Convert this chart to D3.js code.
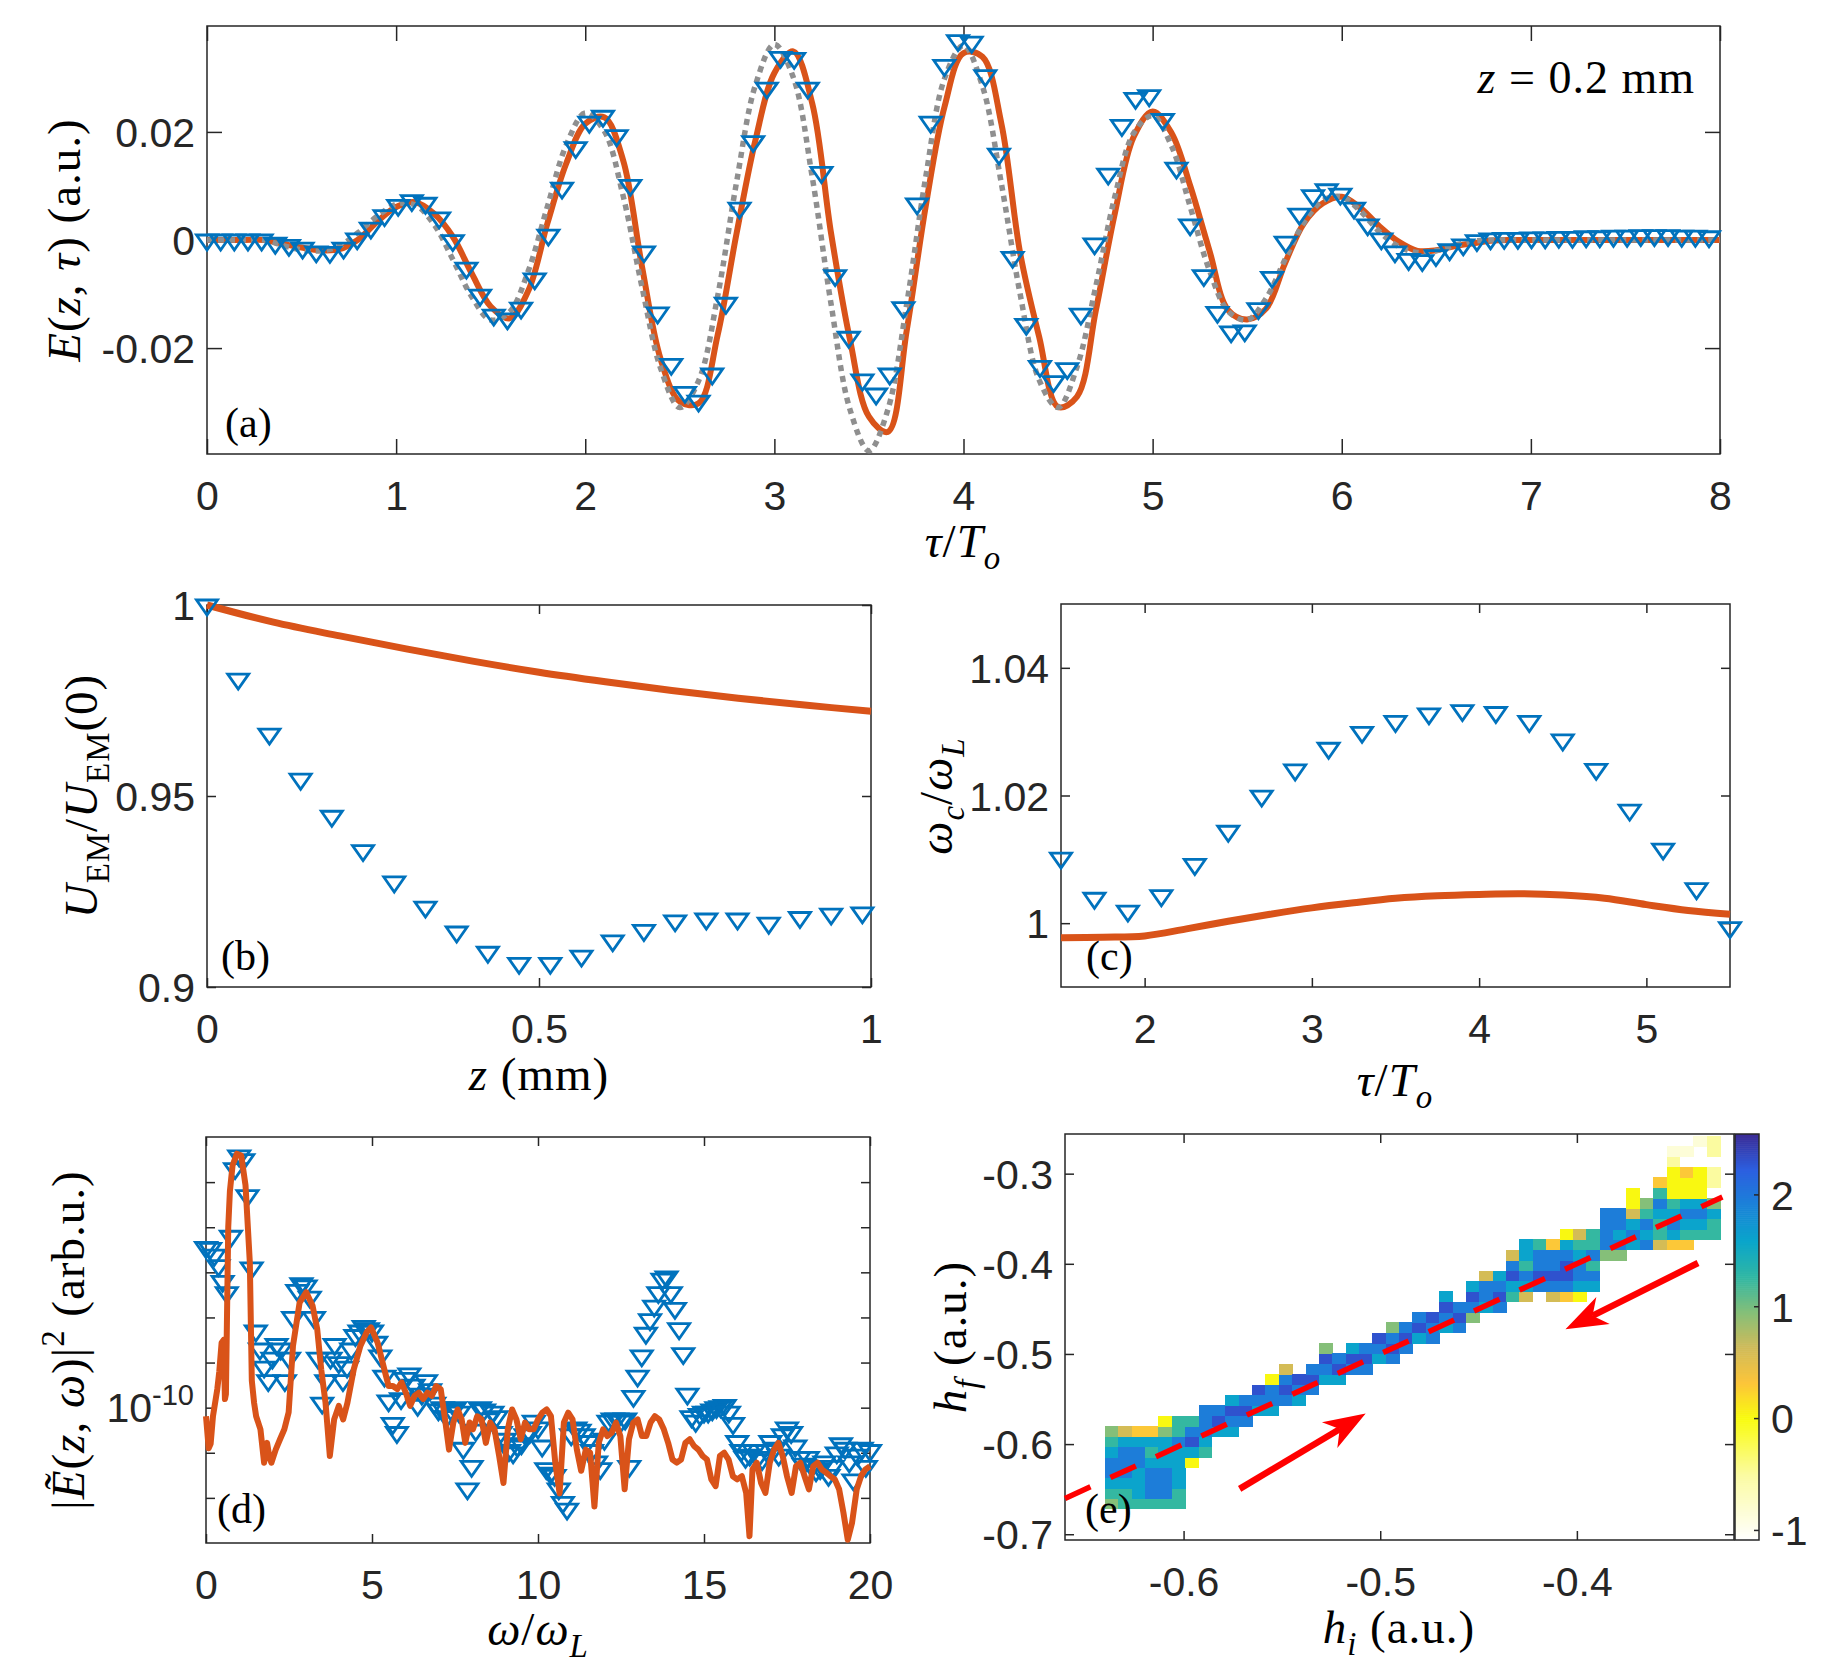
<!DOCTYPE html>
<html>
<head>
<meta charset="utf-8">
<script src="https://cdn.jsdelivr.net/npm/d3@7"></script>
<style>
  body { margin: 0; background: #fff; }
</style>
</head>
<body>
<script>
// ---------- data ----------
// (a) field at z = 0.2 mm
const tauLineA = d3.range(81).map(i => i / 10);
const orangeA = [0, 0, 0, 0, -0.0007, -0.0014, -0.0019, -0.0017, 0.0001, 0.0034,
  0.0061, 0.0070, 0.0049, 0.0006, -0.0062, -0.0123, -0.0145, -0.0093, 0.0031, 0.0142,
  0.0215, 0.0227, 0.0148, -0.0049, -0.0222, -0.0299, -0.0302, -0.0176, 0.0012, 0.0185,
  0.0309, 0.0349, 0.0253, 0.0012, -0.0185, -0.0327, -0.0355, -0.0167, 0.0062, 0.0247,
  0.0346, 0.0339, 0.0216, -0.0025, -0.0179, -0.0309, -0.0290, -0.0130, 0.0049, 0.0191,
  0.0238, 0.0198, 0.0099, -0.0019, -0.0130, -0.0147, -0.0127, -0.0043, 0.0031, 0.0068,
  0.0080, 0.0059, 0.0025, -0.0003, -0.0020, -0.0019, -0.0011, -0.0006, -0.0001, 0,
  0, 0, 0, 0, 0, 0, 0, 0, 0, 0, 0];
const grayA = [0, 0, 0, 0, -0.0010, -0.0018, -0.0020, -0.0011, 0.0014, 0.0044,
  0.0066, 0.0065, 0.0029, -0.0036, -0.0105, -0.0148, -0.0133, -0.0056, 0.0062, 0.0176,
  0.0235, 0.0202, 0.0082, -0.0087, -0.0239, -0.0310, -0.0260, -0.0104, 0.0107, 0.0287,
  0.0362, 0.0301, 0.0117, -0.0119, -0.0314, -0.0390, -0.0314, -0.0118, 0.0116, 0.0299,
  0.0360, 0.0285, 0.0105, -0.0101, -0.0259, -0.0310, -0.0235, -0.0085, 0.0080, 0.0198,
  0.0230, 0.0174, 0.0060, -0.0056, -0.0132, -0.0148, -0.0108, -0.0036, 0.0032, 0.0073,
  0.0080, 0.0053, 0.0015, -0.0012, -0.0023, -0.0020, -0.0010, -0.0002, 0, 0,
  0, 0, 0, 0, 0, 0, 0, 0, 0, 0, 0];
const tauStepA = 0.0722;
const blueA = [0, 0, 0, 0, 0, -0.0006, -0.0010, -0.0015, -0.0022, -0.0023,
  -0.0015, 0.0002, 0.0022, 0.0045, 0.0064, 0.0073, 0.0068, 0.0041, -0.0001, -0.0052,
  -0.0102, -0.0139, -0.0146, -0.0126, -0.0072, 0.0009, 0.0096, 0.0171, 0.0218, 0.0229,
  0.0193, 0.0101, -0.0022, -0.0135, -0.0230, -0.0282, -0.0298, -0.0248, -0.0117, 0.0059,
  0.0182, 0.0281, 0.0338, 0.0336, 0.0281, 0.0125, -0.0066, -0.0180, -0.0259, -0.0285,
  -0.0248, -0.0125, 0.0067, 0.0218, 0.0323, 0.0369, 0.0366, 0.0304, 0.0159, -0.0032,
  -0.0156, -0.0234, -0.0262, -0.0238, -0.0137, -0.0007, 0.0122, 0.0212, 0.0262, 0.0267,
  0.0223, 0.0133, 0.0028, -0.0066, -0.0134, -0.0170, -0.0168, -0.0127, -0.0069, -0.0004,
  0.0048, 0.0082, 0.0093, 0.0085, 0.0059, 0.0028, 0.0002, -0.0022, -0.0036, -0.0038,
  -0.0029, -0.0018, -0.0009, -0.0001, 0.0002, 0.0003, 0.0003, 0.0004, 0.0004, 0.0005,
  0.0005, 0.0006, 0.0006, 0.0007, 0.0007, 0.0008, 0.0008, 0.0008, 0.0007, 0.0007, 0.0006];

// (b) energy vs z
const zLineB = [0, 0.1, 0.2, 0.3, 0.4, 0.5, 0.6, 0.7, 0.8, 0.9, 1.0];
const orangeB = [1.0, 0.9955, 0.9919, 0.9885, 0.9853, 0.9824, 0.9799, 0.9776, 0.9756, 0.9738, 0.9722];
const zStepB = 0.047;
const blueB = [1.0000, 0.9806, 0.9662, 0.9544, 0.9447, 0.9357, 0.9275, 0.9209, 0.9144, 0.9091,
  0.9062, 0.9062, 0.9081, 0.9121, 0.9148, 0.9173, 0.9178, 0.9178, 0.9167, 0.9182, 0.9191, 0.9194];

// (c) central frequency
const tauLineC = [1.5, 1.75, 2.0, 2.25, 2.5, 2.75, 3.0, 3.25, 3.5, 3.75, 4.0, 4.25, 4.5, 4.75, 5.0, 5.25, 5.5];
const orangeC = [0.9977, 0.9978, 0.9980, 0.9991, 1.0003, 1.0014, 1.0024, 1.0032, 1.0039, 1.0043,
  1.0045, 1.0046, 1.0044, 1.0039, 1.0029, 1.0020, 1.0014];
const tauBlueC = [1.5, 1.7, 1.9, 2.1, 2.3, 2.5, 2.7, 2.9, 3.1, 3.3, 3.5, 3.7, 3.9, 4.1, 4.3, 4.5, 4.7, 4.9, 5.1, 5.3, 5.5];
const blueC = [1.0102, 1.0039, 1.0019, 1.0043, 1.0092, 1.0144, 1.0199, 1.0240, 1.0274, 1.0299,
  1.0316, 1.0328, 1.0333, 1.0330, 1.0316, 1.0287, 1.0241, 1.0177, 1.0116, 1.0054, 0.9993];

// (d) spectrum, stored as log10 of |E|^2
const specOrangeW = [0.00, 0.08, 0.14, 0.21, 0.34, 0.40, 0.47, 0.53, 0.57, 0.60, 0.67, 0.72, 0.80, 0.93, 1.06, 1.19,
  1.32, 1.38, 1.45, 1.51, 1.64, 1.75, 1.84, 1.91, 1.97, 2.10, 2.23, 2.36, 2.49, 2.62, 2.82, 3.02,
  3.21, 3.35, 3.47, 3.60, 3.73, 3.86, 4.00, 4.13, 4.26, 4.45, 4.65, 4.84, 4.97, 5.17, 5.37, 5.50,
  5.63, 5.76, 5.89, 6.02, 6.15, 6.28, 6.41, 6.54, 6.67, 6.80, 6.93, 7.07, 7.20, 7.32, 7.45, 7.58,
  7.70, 7.81, 7.94, 8.04, 8.17, 8.30, 8.43, 8.56, 8.69, 8.83, 8.96, 9.09, 9.22, 9.35, 9.48, 9.61,
  9.74, 9.87, 10.00, 10.13, 10.26, 10.39, 10.52, 10.65, 10.78, 10.91, 11.04, 11.17, 11.30, 11.44, 11.57, 11.70,
  11.83, 11.96, 12.09, 12.22, 12.35, 12.48, 12.61, 12.74, 12.87, 13.00, 13.13, 13.26, 13.39, 13.52, 13.65, 13.79,
  13.92, 14.05, 14.18, 14.31, 14.44, 14.57, 14.70, 14.83, 14.96, 15.09, 15.22, 15.35, 15.48, 15.61, 15.74, 15.87,
  16.00, 16.14, 16.27, 16.37, 16.46, 16.59, 16.72, 16.85, 16.98, 17.11, 17.24, 17.37, 17.50, 17.64, 17.77, 17.90,
  18.03, 18.16, 18.29, 18.42, 18.55, 18.68, 18.81, 18.94, 19.07, 19.20, 19.33, 19.46, 19.60, 19.73, 19.86, 20.00];
const specOrangeLog = [-10.19, -10.9, -10.8, -10.19, -9.59, -9.2, -8.56, -8.5, -9.81, -9.7, -6.0, -5.2, -4.63, -4.37, -4.41, -5.07,
  -6.78, -9.4, -9.9, -10.19, -10.48, -11.22, -10.78, -11.1, -11.22, -10.93, -10.7, -10.48, -10.1, -8.63, -7.67, -7.44,
  -7.74, -8.26, -9.15, -9.89, -11.07, -10.26, -9.96, -10.26, -9.89, -9.15, -8.63, -8.33, -8.22, -8.56, -9.15, -9.52,
  -9.52, -9.59, -9.44, -9.67, -9.96, -9.74, -9.67, -9.81, -9.67, -9.74, -9.52, -9.59, -10.26, -10.93, -10.33, -10.04,
  -10.26, -10.78, -10.33, -10.48, -10.19, -10.26, -10.78, -10.33, -10.48, -11.07, -11.67, -10.48, -10.04, -10.26, -10.70, -10.33,
  -10.48, -10.48, -10.26, -10.11, -10.04, -10.19, -11.22, -11.9, -10.33, -10.11, -10.26, -10.93, -11.4, -10.93, -11.0, -12.19,
  -10.78, -10.48, -10.63, -10.56, -10.33, -10.63, -11.81, -10.70, -10.33, -10.26, -10.63, -10.63, -10.33, -10.19, -10.26, -10.48,
  -10.78, -11.15, -11.22, -11.15, -10.78, -10.70, -10.85, -10.93, -11.07, -11.15, -11.59, -11.74, -11.07, -11.0, -11.15, -11.52,
  -11.59, -11.52, -11.89, -12.85, -11.37, -11.22, -11.67, -11.89, -11.22, -10.93, -10.78, -11.07, -11.52, -11.89, -11.3, -11.22,
  -11.52, -11.81, -11.3, -11.22, -11.37, -11.44, -11.52, -11.59, -11.81, -12.33, -12.93, -12.55, -11.81, -11.52, -11.37, -11.30];
const specStepBlue = 0.125;
const specBlueLog = [-6.45, -6.47, -6.62, -6.85, -7.20, -7.45, -6.20, -4.70, -4.42, -4.50, -5.30, -6.90,
  -8.30, -8.70, -9.10, -9.40, -8.90, -8.60, -8.70, -9.40, -8.90, -8.00, -7.40, -7.25,
  -7.30, -7.55, -8.00, -8.90, -9.90, -9.40, -8.90, -8.60, -9.00, -9.40, -9.10, -8.70,
  -8.40, -8.30, -8.20, -8.25, -8.30, -8.55, -8.85, -9.30, -9.85, -10.35, -10.55, -9.80,
  -9.35, -9.25, -9.50, -9.95, -9.70, -9.40, -9.60, -9.90, -10.05, -10.00, -10.20, -10.05,
  -10.00, -10.10, -10.90, -11.80, -11.30, -10.50, -10.00, -10.05, -10.25, -10.10, -10.20, -10.55,
  -10.70, -10.95, -11.00, -10.85, -10.80, -10.60, -10.55, -10.30, -10.45, -10.85, -11.35, -11.45,
  -11.50, -11.80, -12.10, -12.25, -10.60, -10.45, -10.50, -10.60, -10.75, -10.95, -11.20, -11.35,
  -10.70, -10.30, -10.25, -10.25, -10.30, -10.25, -11.30, -9.75, -9.30, -8.85, -8.35, -8.05,
  -7.75, -7.45, -7.15, -7.10, -7.45, -7.80, -8.25, -8.80, -9.70, -10.20, -10.30, -10.15,
  -10.10, -10.10, -10.05, -10.00, -9.98, -9.95, -10.10, -10.35, -10.75, -10.95, -11.10, -11.05,
  -10.95, -11.10, -11.15, -10.95, -10.75, -10.90, -11.05, -10.60, -10.45, -10.55, -10.85, -11.10,
  -11.25, -11.10, -11.30, -11.40, -11.35, -11.20, -11.50, -11.30, -11.00, -10.80, -10.90, -11.20,
  -11.60, -11.05, -10.90, -11.30, -10.95];

// (e) histogram of h_f vs h_i, column by column (bottom row index + cell codes)
const heatHi0 = -0.640, heatDhi = 0.0068, heatHf0 = -0.672, heatDhf = 0.0115;
const heatStart = [0, 0, 0, 0, 0, 0, 4, 5, 7, 7, 8, 9, 9, 10, 10, 11, 12, 12, 13, 13, 14, 14, 15,
  16, 16, 17, 17, 18, 19, 19, 20, 20, 21, 20, 20, 20, 21, 24, 24, 25, 25, 25, 25, 25, 26, 26];
const heatCells = ["gtcbbctg", "ttcbbbcl", "tcccbbco", "tbbbctco", "tbbbcccgy", "ttccccbtt",
  "ycdbt", "tcbbb", "cdb", "cbdc", "bdb", "cbd", "cbby", "bdbl", "cbd", "bdb", "cbdg", "cdb",
  "bdc", "bdb", "cbd", "bdbg", "bdb", "cdb", "bbd", "cbdc", "bdb", "gbdc", "cbbl", "bdbc",
  "tcdbl", "lcbtcc", "bdbbt", "lbdbbo", "obddbcy", "ycbbctl", "cbtbtt", "gbbbb", "gbcbb",
  "cbclyy", "bcbtg", "lttcbto", "ocbctyyyvw", "otcbcyyo.w", "tcbcyyy..w", "ttcg.vv.vv"];
const heatCodes = ["w", "v", "y", "o", "l", "g", "t", "c", "b", "d"];
const heatLevels = [-0.85, -0.5, 0.02, 0.3, 0.6, 0.95, 1.25, 1.6, 1.95, 2.3];
const cmapValues = [-1.09, -0.5, 0, 0.3175, 0.635, 0.9525, 1.27, 1.5875, 1.905, 2.2225, 2.54];
const cmapColors = ["#ffffff", "#fbfba0", "#f9fb0e", "#fcc53a", "#cfbb5a", "#84bf79", "#2fb7a4",
  "#0aa5cb", "#1a82d8", "#2c5fe0", "#3a2b95"];
const redLineHi = [-0.6603, -0.326];
const redLineHf = [-0.6603, -0.326];
const arrowTail = [[-0.5715, -0.6497], [-0.3384, -0.3991]];
const arrowTip = [[-0.5074, -0.5661], [-0.4058, -0.4726]];

// ---------- setup ----------
const svg = d3.select("body").append("svg")
  .attr("width", 1848).attr("height", 1669)
  .style("background", "#fff");

const AX = "#262626", BLUE = "#0072BD", ORANGE = "#D95319", GRAY = "#8f8f8f", RED = "#ff0000";
const SANS = '"Liberation Sans", Arial, Helvetica, sans-serif';
const SERIF = '"Liberation Serif", "Times New Roman", serif';
const TICK_FS = 41, LAB_FS = 47;

const boxA = {x0: 207, x1: 1720, y0: 26, y1: 454};
const boxB = {x0: 207, x1: 871, y0: 605, y1: 987};
const boxC = {x0: 1061, x1: 1730, y0: 604, y1: 987};
const boxD = {x0: 206, x1: 870, y0: 1137, y1: 1543};
const boxE = {x0: 1065, x1: 1734, y0: 1134, y1: 1540};
const boxCb = {x0: 1735, x1: 1759, y0: 1134, y1: 1540};

// MATLAB-like box with inward ticks on all four sides
function frame(box, x, y, o) {
  const g = svg.append("g");
  const tl = o.tl;
  const style = sel => {
    sel.select(".domain").remove();
    sel.selectAll(".tick line").attr("stroke", AX).attr("stroke-width", 1.5);
    sel.selectAll(".tick text").attr("fill", AX).attr("font-family", SANS).attr("font-size", TICK_FS);
  };
  g.append("g").attr("transform", `translate(0,${box.y1})`)
    .call(d3.axisBottom(x).tickValues(o.xt).tickFormat(o.xf).tickSizeInner(-tl).tickSizeOuter(0))
    .call(style)
    .call(s => s.selectAll(".tick text").attr("y", 56).attr("dy", null));
  g.append("g").attr("transform", `translate(0,${box.y0})`)
    .call(d3.axisTop(x).tickValues(o.xt).tickFormat(() => "").tickSizeInner(-tl).tickSizeOuter(0))
    .call(style);
  g.append("g").attr("transform", `translate(${box.x0},0)`)
    .call(d3.axisLeft(y).tickValues(o.yt).tickFormat(o.yf).tickSizeInner(-tl).tickSizeOuter(0))
    .call(style)
    .call(s => s.selectAll(".tick text").attr("x", -12).attr("dy", "0.36em"));
  g.append("g").attr("transform", `translate(${box.x1},0)`)
    .call(d3.axisRight(y).tickValues(o.yt).tickFormat(() => "").tickSizeInner(-tl).tickSizeOuter(0))
    .call(style);
  g.append("rect").attr("x", box.x0).attr("y", box.y0)
    .attr("width", box.x1 - box.x0).attr("height", box.y1 - box.y0)
    .attr("fill", "none").attr("stroke", AX).attr("stroke-width", 1.5);
  return g;
}

// LaTeX-ish label made of tspans: i = italic, r = roman, sub / subr = subscript, sup = superscript
function tex(x, y, parts, o = {}) {
  const S = o.size || LAB_FS;
  const t = svg.append("text").attr("x", x).attr("y", y)
    .attr("font-family", SERIF).attr("font-size", S).attr("fill", "#000")
    .attr("letter-spacing", o.ls == null ? 1 : o.ls)
    .attr("text-anchor", o.anchor || "middle");
  if (o.rotate) t.attr("transform", `rotate(-90,${x},${y})`);
  let shift = 0;
  parts.forEach(([s, k]) => {
    const target = (k === "sub" || k === "subr") ? 0.25 * S : k === "sup" ? -0.42 * S : 0;
    const sp = t.append("tspan").text(s).attr("dy", target - shift);
    shift = target;
    if (k === "i" || k === "sub") sp.attr("font-style", "italic");
    if (k === "sub" || k === "subr" || k === "sup") sp.attr("font-size", 0.7 * S);
  });
  return t;
}

const TW = 21, TH = 15;
const triPath = `M${-TW / 2},${-TH / 3}L${TW / 2},${-TH / 3}L0,${2 * TH / 3}Z`;
function triangles(g, xs, ys) {
  g.append("g").selectAll("path").data(ys).join("path")
    .attr("d", triPath)
    .attr("transform", (d, i) => `translate(${xs[i]},${d})`)
    .attr("fill", "none").attr("stroke", BLUE).attr("stroke-width", 2.8)
    .attr("stroke-linejoin", "miter");
}

// ---------- (a) ----------
const xA = d3.scaleLinear().domain([0, 8]).range([boxA.x0, boxA.x1]);
const yA = d3.scaleLinear().domain([-0.0396, 0.0396]).range([boxA.y1, boxA.y0]);
frame(boxA, xA, yA, {tl: 15, xt: d3.range(0, 9), xf: d => d,
  yt: [-0.02, 0, 0.02], yf: d => d === 0 ? "0" : d.toFixed(2)});
const gA = svg.append("g");
const lineA = d3.line().x((d, i) => xA(tauLineA[i])).y(d => yA(d)).curve(d3.curveCatmullRom.alpha(0.5));
gA.append("path").attr("d", lineA(orangeA)).attr("fill", "none")
  .attr("stroke", ORANGE).attr("stroke-width", 6).attr("stroke-linejoin", "round");
gA.append("path").attr("d", lineA(grayA)).attr("fill", "none")
  .attr("stroke", GRAY).attr("stroke-width", 5.5).attr("stroke-dasharray", "6,5");
triangles(gA, blueA.map((d, i) => xA(i * tauStepA)), blueA.map(d => yA(d)));
tex(1695, 93, [["z", "i"], [" = 0.2 mm", "r"]], {anchor: "end", size: 46});
tex(225, 437, [["(a)", "r"]], {anchor: "start", size: 42, ls: 0});
tex(80, 240, [["E", "i"], ["(", "r"], ["z", "i"], [", ", "r"], ["τ", "i"], [")", "r"], ["  (a.u.)", "r"]], {rotate: true});
tex(963, 557, [["τ", "i"], ["/", "r"], ["T", "i"], ["o", "sub"]]);

// ---------- (b) ----------
const xB = d3.scaleLinear().domain([0, 1]).range([boxB.x0, boxB.x1]);
const yB = d3.scaleLinear().domain([0.9, 1]).range([boxB.y1, boxB.y0]);
frame(boxB, xB, yB, {tl: 9, xt: [0, 0.5, 1], xf: d => String(d), yt: [0.9, 0.95, 1], yf: d => String(d)});
const gB = svg.append("g");
gB.append("path")
  .attr("d", d3.line().x((d, i) => xB(zLineB[i])).y(d => yB(d)).curve(d3.curveCatmullRom)(orangeB))
  .attr("fill", "none").attr("stroke", ORANGE).attr("stroke-width", 7);
triangles(gB, blueB.map((d, i) => xB(i * zStepB)), blueB.map(d => yB(d)));
tex(221, 970, [["(b)", "r"]], {anchor: "start", size: 42, ls: 0});
tex(97, 796, [["U", "i"], ["EM", "subr"], ["/", "r"], ["U", "i"], ["EM", "subr"], ["(0)", "r"]], {rotate: true});
tex(539, 1090, [["z", "i"], [" (mm)", "r"]]);

// ---------- (c) ----------
const xC = d3.scaleLinear().domain([1.5, 5.5]).range([boxC.x0, boxC.x1]);
const yC = d3.scaleLinear().domain([0.99, 1.05]).range([boxC.y1, boxC.y0]);
frame(boxC, xC, yC, {tl: 9, xt: [2, 3, 4, 5], xf: d => d, yt: [1, 1.02, 1.04], yf: d => String(d)});
const gC = svg.append("g");
gC.append("path")
  .attr("d", d3.line().x((d, i) => xC(tauLineC[i])).y(d => yC(d)).curve(d3.curveCatmullRom)(orangeC))
  .attr("fill", "none").attr("stroke", ORANGE).attr("stroke-width", 7);
triangles(gC, blueC.map((d, i) => xC(tauBlueC[i])), blueC.map(d => yC(d)));
tex(1086, 970, [["(c)", "r"]], {anchor: "start", size: 42, ls: 0});
tex(952, 796, [["ω", "i"], ["c", "sub"], ["/", "r"], ["ω", "i"], ["L", "sub"]], {rotate: true});
tex(1395, 1096, [["τ", "i"], ["/", "r"], ["T", "i"], ["o", "sub"]]);

// ---------- (d) ----------
const xD = d3.scaleLinear().domain([0, 20]).range([boxD.x0, boxD.x1]);
const yD = d3.scaleLog().domain([1e-13, 1e-4]).range([boxD.y1, boxD.y0]);
frame(boxD, xD, yD, {tl: 9, xt: [0, 5, 10, 15, 20], xf: d => d,
  yt: [1e-12, 1e-11, 1e-10, 1e-9, 1e-8, 1e-7, 1e-6, 1e-5], yf: () => ""});
const gD = svg.append("g");
triangles(gD, specBlueLog.map((d, i) => xD(i * specStepBlue)), specBlueLog.map(d => yD(Math.pow(10, d))));
gD.append("path")
  .attr("d", d3.line().x((d, i) => xD(specOrangeW[i])).y(d => yD(Math.pow(10, d)))(specOrangeLog))
  .attr("fill", "none").attr("stroke", ORANGE).attr("stroke-width", 6).attr("stroke-linejoin", "round");
// 10^-10 tick label
const lab10 = svg.append("text").attr("x", boxD.x0 - 12).attr("y", yD(1e-10)).attr("dy", "0.36em")
  .attr("text-anchor", "end").attr("font-family", SANS).attr("font-size", TICK_FS).attr("fill", AX);
lab10.append("tspan").text("10");
lab10.append("tspan").text("-10").attr("font-size", 29).attr("dy", -17);
tex(217, 1523, [["(d)", "r"]], {anchor: "start", size: 42, ls: 0});
tex(84, 1340, [["|", "r"], ["Ẽ", "i"], ["(", "r"], ["z", "i"], [", ", "r"], ["ω", "i"], [")|", "r"], ["2", "sup"], ["  (arb.u.)", "r"]], {rotate: true});
tex(538, 1645, [["ω", "i"], ["/", "r"], ["ω", "i"], ["L", "sub"]]);

// ---------- (e) ----------
const xE = d3.scaleLinear().domain([-0.6603, -0.3201]).range([boxE.x0, boxE.x1]);
const yE = d3.scaleLinear().domain([-0.7064, -0.2560]).range([boxE.y1, boxE.y0]);
const cmap = d3.scaleLinear().domain(cmapValues).range(cmapColors).clamp(true);
frame(boxE, xE, yE, {tl: 9, xt: [-0.6, -0.5, -0.4], xf: d => d.toFixed(1),
  yt: [-0.7, -0.6, -0.5, -0.4, -0.3], yf: d => d.toFixed(1)});
const gE = svg.append("g");
const cells = [];
heatCells.forEach((col, c) => {
  col.split("").forEach((ch, k) => {
    const idx = heatCodes.indexOf(ch);
    if (idx >= 0) cells.push({c, r: heatStart[c] + k, v: heatLevels[idx]});
  });
});
gE.append("g").selectAll("rect").data(cells).join("rect")
  .attr("x", d => xE(heatHi0 + d.c * heatDhi))
  .attr("y", d => yE(heatHf0 + (d.r + 1) * heatDhf))
  .attr("width", d => xE(heatHi0 + (d.c + 1) * heatDhi) - xE(heatHi0 + d.c * heatDhi) + 0.5)
  .attr("height", d => yE(heatHf0 + d.r * heatDhf) - yE(heatHf0 + (d.r + 1) * heatDhf) + 0.5)
  .attr("fill", d => cmap(d.v))
  .attr("shape-rendering", "crispEdges");
gE.append("path")
  .attr("d", d3.line().x((d, i) => xE(d)).y((d, i) => yE(redLineHf[i]))(redLineHi))
  .attr("fill", "none").attr("stroke", RED).attr("stroke-width", 5.5).attr("stroke-dasharray", "28,22");
arrowTail.forEach((t, i) => {
  const x0 = xE(t[0]), y0 = yE(t[1]), x1 = xE(arrowTip[i][0]), y1 = yE(arrowTip[i][1]);
  const len = Math.hypot(x1 - x0, y1 - y0), ux = (x1 - x0) / len, uy = (y1 - y0) / len;
  const nx = -uy, ny = ux, L = 42, HW = 15;
  gE.append("line").attr("x1", x0).attr("y1", y0)
    .attr("x2", x1 - ux * 30).attr("y2", y1 - uy * 30)
    .attr("stroke", RED).attr("stroke-width", 6.5);
  const pts = [[x1, y1], [x1 - ux * L + nx * HW, y1 - uy * L + ny * HW],
    [x1 - ux * L * 0.72, y1 - uy * L * 0.72], [x1 - ux * L - nx * HW, y1 - uy * L - ny * HW]];
  gE.append("path").attr("d", "M" + pts.map(p => p.join(",")).join("L") + "Z").attr("fill", RED);
});
tex(1085, 1523, [["(e)", "r"]], {anchor: "start", size: 42, ls: 0});
tex(966, 1337, [["h", "i"], ["f", "sub"], ["  (a.u.)", "r"]], {rotate: true});
tex(1399, 1643, [["h", "i"], ["i", "sub"], [" (a.u.)", "r"]]);

// colorbar
const yCb = d3.scaleLinear().domain([-1.09, 2.54]).range([boxCb.y1, boxCb.y0]);
const cbSteps = d3.range(0, 200).map(i => -1.09 + (2.54 + 1.09) * i / 200);
const dv = (2.54 + 1.09) / 200;
svg.append("g").selectAll("rect").data(cbSteps).join("rect")
  .attr("x", boxCb.x0).attr("width", boxCb.x1 - boxCb.x0)
  .attr("y", d => yCb(d + dv)).attr("height", d => yCb(d) - yCb(d + dv) + 0.6)
  .attr("fill", d => cmap(d + dv / 2));
const gCb = svg.append("g").attr("transform", `translate(${boxCb.x1},0)`)
  .call(d3.axisRight(yCb).tickValues([-1, 0, 1, 2]).tickFormat(d => d).tickSizeInner(-5).tickSizeOuter(0));
gCb.select(".domain").remove();
gCb.selectAll(".tick line").attr("stroke", AX).attr("stroke-width", 1.5);
gCb.selectAll(".tick text").attr("x", 12).attr("dy", "0.36em").attr("fill", AX)
  .attr("font-family", SANS).attr("font-size", TICK_FS);
svg.append("rect").attr("x", boxCb.x0).attr("y", boxCb.y0)
  .attr("width", boxCb.x1 - boxCb.x0).attr("height", boxCb.y1 - boxCb.y0)
  .attr("fill", "none").attr("stroke", AX).attr("stroke-width", 1.5);
</script>
</body>
</html>
